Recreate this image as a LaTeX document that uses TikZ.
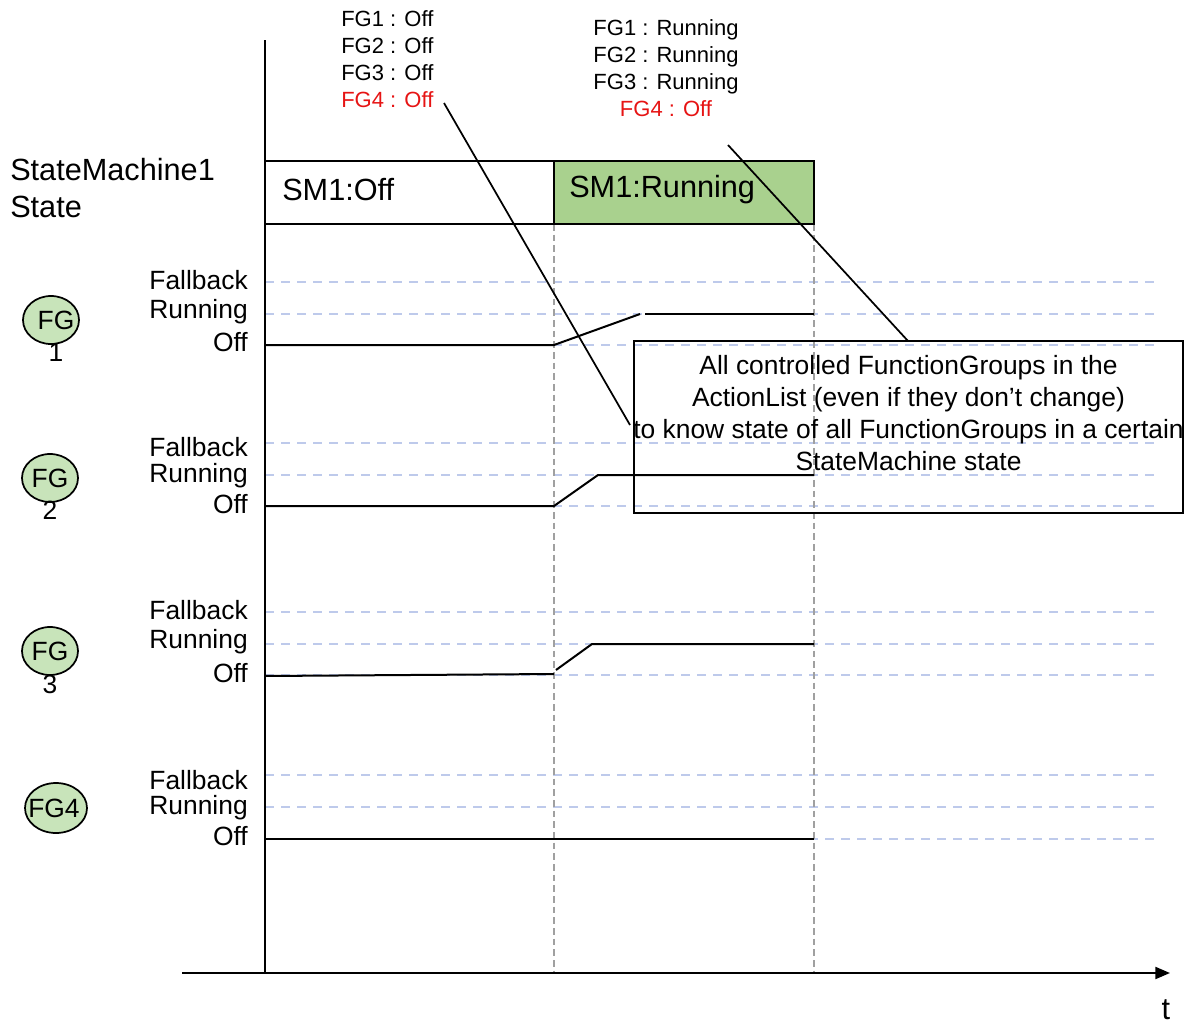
\documentclass[tikz,border=0pt]{standalone}
\usepackage{fontspec}
\setmainfont{Liberation Sans}
\usetikzlibrary{arrows.meta,shapes.geometric}
\definecolor{smgreen}{RGB}{169,209,142}
\definecolor{fggreen}{RGB}{200,228,186}
\definecolor{gridblue}{RGB}{190,202,235}
\definecolor{guidegrey}{RGB}{160,160,160}
\definecolor{alertred}{RGB}{230,20,20}
\begin{document}
\begin{tikzpicture}[x=0.75pt,y=-0.75pt,
  axis/.style={line width=1.6pt},
  signal/.style={line width=1.5pt},
  levelgrid/.style={draw=gridblue,line width=0.8pt,dash pattern=on 7pt off 5pt},
  guide/.style={draw=guidegrey,line width=0.8pt,dash pattern=on 5pt off 3pt},
  callout/.style={line width=1.3pt},
  big/.style={font=\fontsize{23}{27.75}\selectfont,inner sep=0pt},
  mid/.style={font=\fontsize{19.8}{24}\selectfont,inner sep=0pt},
  small/.style={font=\fontsize{16.5}{20.25}\selectfont,inner sep=0pt},
  lvl/.style={mid,anchor=east},
  fgball/.style={ellipse,draw,line width=1.3pt,fill=fggreen,minimum width=56pt*0.75,minimum height=48pt*0.75,inner sep=0pt}]
\useasboundingbox (0,0) rectangle (1190,1025);

% level grid lines
\foreach \y in {282,314,345,443,475,506,612,644,675,775,807,839}
  \draw[levelgrid] (265,\y) -- (1155,\y);

% time guides at the state changes
\coordinate (g1t) at (554,224); \coordinate (g1b) at (554,973);
\coordinate (g2t) at (814,224); \coordinate (g2b) at (814,973);
\draw[guide] (g1t) -- (g1b);
\draw[guide] (g2t) -- (g2b);

% axes
\coordinate (ytop) at (265,40); \coordinate (yorig) at (265,973);
\coordinate (xstart) at (182,973); \coordinate (xend) at (1170,973);
\draw[axis] (ytop) -- (yorig);
\draw[axis,-{Triangle[length=11pt,width=9pt]}] (xstart) -- (xend);
\node[big] (tlabel) at (1166,1010) {t};

% state machine row
\node[big,anchor=west] (smtitle) at (10,192) {\begin{tabular}{@{}l@{}}StateMachine1\\State\end{tabular}};
\fill[smgreen] (554,161) rectangle (814,224);
\draw[line width=1.5pt] (265,161) rectangle (814,224);
\draw[line width=1.5pt] (554,161) -- (554,224);
\node[big,anchor=west] (smoff) at (282,190) {SM1:Off};
\node[big,anchor=west] (smrun) at (569,190) {SM1:Running};

% function group markers
\node[fgball] (fg1) at (51,320) {};
\node[mid] (fg1a) at (56,320) {FG};
\node[mid] (fg1b) at (56,352) {1};
\node[fgball] (fg2) at (50,478) {};
\node[mid] (fg2a) at (50,478) {FG};
\node[mid] (fg2b) at (50,510) {2};
\node[fgball] (fg3) at (50,651) {};
\node[mid] (fg3a) at (50,651) {FG};
\node[mid] (fg3b) at (50,684) {3};
\node[fgball,minimum width=62pt*0.75,minimum height=50pt*0.75] (fg4) at (56,808) {};
\node[mid] (fg4a) at (54,808) {FG4};

% level labels
\node[lvl] (l1f) at (248,280) {Fallback};
\node[lvl] (l1r) at (248,312) {Running};
\node[lvl] (l1o) at (248,342) {Off};
\node[lvl] (l2f) at (248,447) {Fallback};
\node[lvl] (l2r) at (248,476) {Running};
\node[lvl] (l2o) at (248,504) {Off};
\node[lvl] (l3f) at (248,610) {Fallback};
\node[lvl] (l3r) at (248,642) {Running};
\node[lvl] (l3o) at (248,673) {Off};
\node[lvl] (l4f) at (248,780) {Fallback};
\node[lvl] (l4r) at (248,808) {Running};
\node[lvl] (l4o) at (248,836) {Off};

% FG1 signal
\coordinate (s1a) at (265,345); \coordinate (s1b) at (554,345);
\coordinate (s1c) at (640,314); \coordinate (s1d) at (645,314); \coordinate (s1e) at (814,314);
\draw[signal] (s1a) -- (s1b) -- (s1c);
\draw[signal] (s1d) -- (s1e);
% FG2 signal
\coordinate (s2a) at (265,506); \coordinate (s2b) at (554,506);
\coordinate (s2c) at (598,475); \coordinate (s2d) at (814,475);
\draw[signal] (s2a) -- (s2b) -- (s2c) -- (s2d);
% FG3 signal
\coordinate (s3a) at (265,676); \coordinate (s3b) at (554,674);
\coordinate (s3c) at (556,670); \coordinate (s3d) at (592,644); \coordinate (s3e) at (814,644);
\draw[signal] (s3a) -- (s3b);
\draw[signal] (s3c) -- (s3d) -- (s3e);
% FG4 signal
\coordinate (s4a) at (265,839); \coordinate (s4b) at (814,839);
\draw[signal] (s4a) -- (s4b);

% state snapshots
\node[small,anchor=north west,align=left] (snapoff) at (341,10)
  {FG1 : Off\\FG2 : Off\\FG3 : Off\\\textcolor{alertred}{FG4 : Off}};
\node[small,anchor=north,align=center] (snaprun) at (666,19)
  {FG1 : Running\\FG2 : Running\\FG3 : Running\\\textcolor{alertred}{FG4 : Off}};

% note box
\draw[line width=1.5pt] (634,341) rectangle (1183,513);
\node[mid,align=center] (note) at (908.5,413)
  {All controlled FunctionGroups in the\\ActionList (even if they don’t change)\\to know state of all FunctionGroups in a certain\\StateMachine state};

% callout lines
\coordinate (c1a) at (444,103); \coordinate (c1b) at (630,425);
\coordinate (c2a) at (728,145); \coordinate (c2b) at (908,341);
\draw[callout] (c1a) -- (c1b);
\draw[callout] (c2a) -- (c2b);
\end{tikzpicture}
\end{document}
